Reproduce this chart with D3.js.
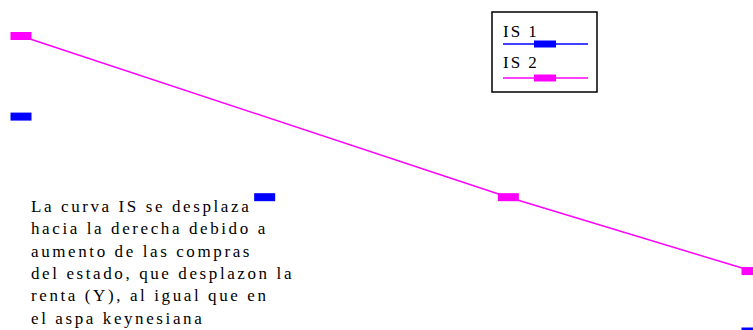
<!DOCTYPE html>
<html>
<head>
    <script src="https://d3js.org/d3.v7.min.js"></script>
    <style>
        body { margin: 0; background: #fff; }
        text { font-family: "Liberation Serif", "Times New Roman", serif; fill: #000; }
    </style>
</head>
<body>
<div id="grafik"></div>

<script>
    // datos de las curvas IS (renta Y en x, tipo de interes en y)
    var is1X = [0, 1, 3];
    var is1Y = [9, 6, 1];
    var is2X = [0, 2, 3];
    var is2Y = [12, 6, 3.25];

    var seriesNames = ["IS 1", "IS 2"];
    var seriesColors = ["#0000ff", "#ff00ff"];

    var nota = [
        "La curva IS se desplaza",
        "hacia la derecha debido a",
        "aumento de las compras",
        "del estado, que desplazon la",
        "renta (Y), al igual que en",
        "el aspa keynesiana"
    ];

    var width = 753, height = 330;

    var svg = d3.select("#grafik")
        .append("svg")
        .attr("width", width)
        .attr("height", height);

    var xScale = d3.scaleLinear()
        .domain([0, 3])
        .range([21, 752]);

    var yScale = d3.scaleLinear()
        .domain([1, 12])
        .range([331.5, 36]);

    var is1 = is1X.map(function(x, i) { return { x: x, y: is1Y[i] }; });
    var is2 = is2X.map(function(x, i) { return { x: x, y: is2Y[i] }; });

    var line = d3.line()
        .x(function(d) { return xScale(d.x); })
        .y(function(d) { return yScale(d.y); });

    // IS 2 con linea, IS 1 solo marcadores
    svg.append("path")
        .datum(is2)
        .attr("d", line)
        .attr("fill", "none")
        .attr("stroke", seriesColors[1])
        .attr("stroke-width", 1.5);

    function marcadores(data, color) {
        svg.append("g").selectAll("rect")
            .data(data)
            .enter()
            .append("rect")
            .attr("x", function(d) { return xScale(d.x) - 10.5; })
            .attr("y", function(d) { return yScale(d.y) - 4; })
            .attr("width", 21)
            .attr("height", 8)
            .attr("fill", color);
    }
    marcadores(is1, seriesColors[0]);
    marcadores(is2, seriesColors[1]);

    // leyenda
    var leg = svg.append("g").attr("transform", "translate(492,12)");
    leg.append("rect")
        .attr("width", 105)
        .attr("height", 80)
        .attr("fill", "#fff")
        .attr("stroke", "#000")
        .attr("stroke-width", 1.5);

    seriesNames.forEach(function(name, i) {
        var y0 = 32 + i * 34;
        leg.append("text")
            .attr("x", 11)
            .attr("y", 25 + i * 31)
            .attr("font-size", 17)
            .attr("letter-spacing", 2)
            .text(name);
        leg.append("line")
            .attr("x1", 11).attr("x2", 96)
            .attr("y1", y0).attr("y2", y0)
            .attr("stroke", seriesColors[i])
            .attr("stroke-width", 1.5);
        leg.append("rect")
            .attr("x", 42).attr("y", y0 - 3.5)
            .attr("width", 22).attr("height", 7)
            .attr("fill", seriesColors[i]);
    });

    // texto explicativo
    svg.append("g").selectAll("text")
        .data(nota)
        .enter()
        .append("text")
        .attr("x", 31)
        .attr("y", function(d, i) { return 212 + i * 22.3; })
        .attr("font-size", 17)
        .attr("letter-spacing", 2.6)
        .text(function(d) { return d; });
</script>
</body>
</html>
